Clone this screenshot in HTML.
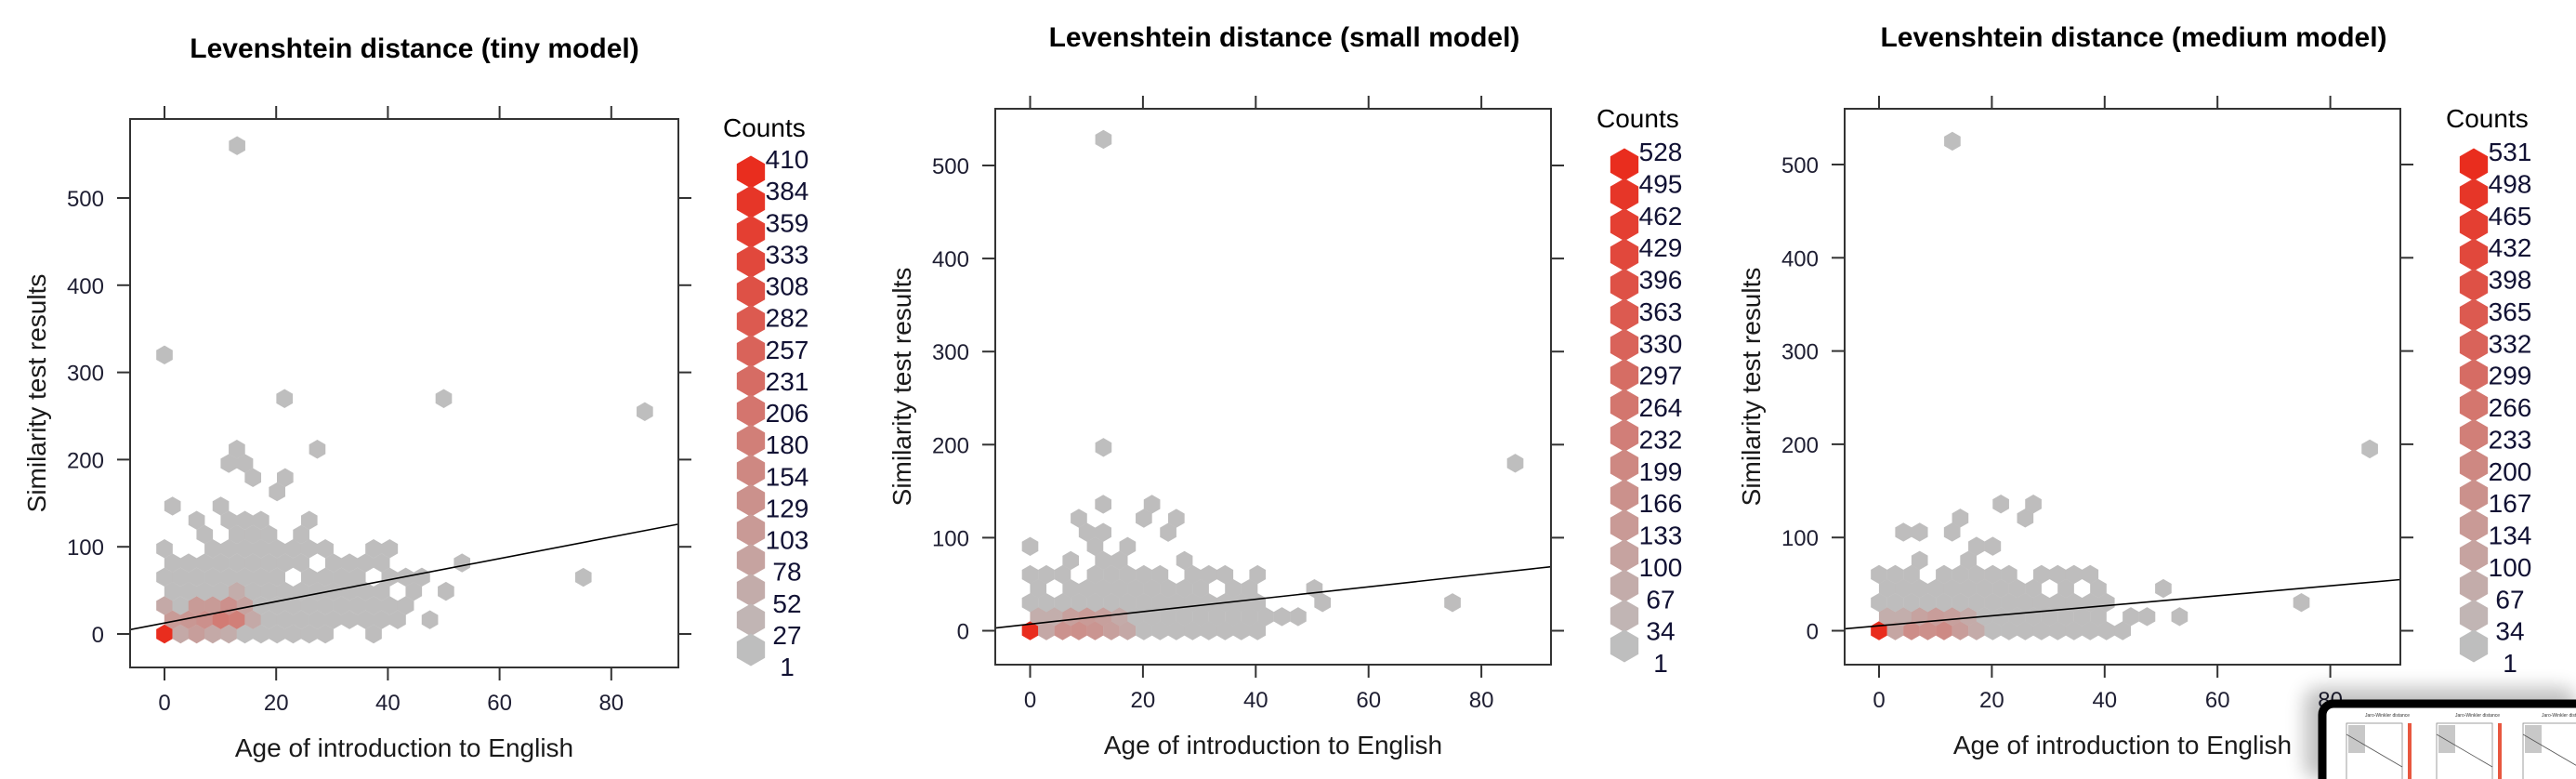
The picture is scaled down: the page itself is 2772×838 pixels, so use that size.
<!DOCTYPE html>
<html>
<head>
<meta charset="utf-8">
<style>
  html,body{margin:0;padding:0;background:#fff;width:2772px;height:838px;overflow:hidden;}
  svg{display:block;font-family:"Liberation Sans",Arial,sans-serif;overflow:hidden;}
</style>
</head>
<body>
<svg id="chart" width="2772" height="838" viewBox="0 0 2772 838" xmlns="http://www.w3.org/2000/svg">
  <defs>
    <filter id="blur" x="-20%" y="-20%" width="140%" height="140%"><feGaussianBlur stdDeviation="10"/></filter>
    <clipPath id="page-clip"><rect x="0" y="0" width="2772" height="838"/></clipPath>
  </defs>
  <rect x="0" y="0" width="2772" height="838" fill="#ffffff"/>
</svg>
<script>
// ---------- data: tiny model ----------
const p1AgeBin = 2.88;
const p1ScoreBin = 16.3;
const p1Rows = [
  [0,1,2,3,4,5,6,7,8,9,10,13],
  [0,1,2,3,4,5,6,7,8,9,10,11,12,13,14,16],
  [0,1,2,3,4,5,6,7,8,9,10,11,12,13,14,15],
  [0,1,2,3,4,5,6,7,8,9,10,11,12,13,15,17],
  [0,1,2,3,4,5,6,7,9,10,11,12,14,15,16],
  [0,1,2,3,4,5,6,7,8,10,11,12,13,18],
  [0,3,4,5,6,7,8,9,10,13,14],
  [2,4,5,6,8],
  [2,4,5,6,9],
  [0,3],
  [7],
  [5,7],
  [4,5],
  [4,9]
];
const p1HotRow = [0,0,0,0,0,1,1,1,1,1,1,2,2,2,2,2,3];
const p1HotCol = [0,1,2,3,4,0,1,2,3,4,5,0,2,3,4,5,4];
const p1HotCount = [410,60,90,60,50,100,110,130,190,180,60,60,100,100,130,80,50];
const p1OutAge = [13,0,21.5,50,86,75];
const p1OutScore = [560,320,270,270,255,65];
const p1Legend = [410,384,359,333,308,282,257,231,206,180,154,129,103,78,52,27,1];
const p1Intercept = 12.6, p1Slope = 1.232;

// ---------- data: small model ----------
const p2AgeBin = 2.88;
const p2ScoreBin = 15.1;
const p2Rows = [
  [0,1,2,3,4,5,6,7,8,9,10,11,12,13,14],
  [0,1,2,3,4,5,6,7,8,9,10,11,12,13,14,15,16],
  [0,1,2,3,4,5,6,7,8,9,10,11,12,13,14,18,26],
  [0,2,3,4,5,6,7,8,9,10,12,13,17],
  [0,1,2,4,5,6,7,8,10,11,12,14],
  [2,4,5,9],
  [0,4,6],
  [3,4,8],
  [3,7,9],
  [4,7]
];
const p2HotRow = [0,0,0,0,0,0,0,1,1,1,1,1,1];
const p2HotCol = [0,1,2,3,4,5,6,0,1,2,3,4,5];
const p2HotCount = [528,80,160,170,150,110,80,60,60,110,130,110,70];
const p2OutAge = [13,13,86];
const p2OutScore = [528,197,180];
const p2Legend = [528,495,462,429,396,363,330,297,264,232,199,166,133,100,67,34,1];
const p2Intercept = 7.1, p2Slope = 0.668;

// ---------- data: medium model ----------
const p3AgeBin = 2.88;
const p3ScoreBin = 15.1;
const p3Rows = [
  [0,1,2,3,4,5,6,7,8,9,10,11,12,13,14,15],
  [0,1,2,3,4,5,6,7,8,9,10,11,12,13,15,16,18],
  [0,1,2,3,4,5,6,7,8,9,10,11,12,13,14,26],
  [0,1,2,3,4,5,6,7,8,9,11,13,17],
  [0,1,2,4,5,6,7,8,10,11,12,13],
  [2,5],
  [6,7],
  [1,2,4],
  [5,9],
  [7,9]
];
const p3HotRow = [0,0,0,0,0,0,0,1,1,1,1,1,1];
const p3HotCol = [0,1,2,3,4,5,6,0,1,2,3,4,5];
const p3HotCount = [531,90,180,170,190,120,70,60,60,100,120,110,70];
const p3OutAge = [13,87];
const p3OutScore = [525,195];
const p3Legend = [531,498,465,432,398,365,332,299,266,233,200,167,134,100,67,34,1];
const p3Intercept = 5.3, p3Slope = 0.536;

const xTicks = [0,20,40,60,80];
const yTicks = [0,100,200,300,400,500];

// ---------- rendering ----------
const NS = "http://www.w3.org/2000/svg";
const svg = document.getElementById('chart');
function mk(tag, attrs, parent){
  const e = document.createElementNS(NS, tag);
  for (const k in attrs) e.setAttribute(k, attrs[k]);
  (parent||svg).appendChild(e);
  return e;
}
const GRAY=[190,190,190], RED=[233,45,30];
function colorFor(c, max){
  const t = Math.max(0, Math.min(1, (c-1)/(max-1)));
  const r = Math.round(GRAY[0]+(RED[0]-GRAY[0])*t);
  const g = Math.round(GRAY[1]+(RED[1]-GRAY[1])*t);
  const b = Math.round(GRAY[2]+(RED[2]-GRAY[2])*t);
  return `rgb(${r},${g},${b})`;
}
function hexPts(cx, cy, r){
  const p=[];
  for(let k=0;k<6;k++){const a=(-90+60*k)*Math.PI/180;p.push((cx+r*Math.cos(a)).toFixed(2)+','+(cy+r*Math.sin(a)).toFixed(2));}
  return p.join(' ');
}

function drawPanel(cfg){
  const g = mk('g', {});
  
  
  const L=cfg.box[0], T=cfg.box[1], R=cfg.box[2], B=cfg.box[3];
  const xs = a => cfg.x0 + a*cfg.xk;
  const ys = s => cfg.y0 - s*cfg.yk;
  const max = cfg.legend[0];

  const title = mk('text', {x:cfg.titleX, y:cfg.titleY, 'text-anchor':'middle', 'font-size':30, 'font-weight':'bold', fill:'#000'}, g);
  title.textContent = cfg.title;
  
  

  const cid = cfg.name + '-clip';
  const cp = mk('clipPath', {id:cid}, g);
  mk('rect', {x:L, y:T, width:R-L, height:B-T}, cp);
  const plot = mk('g', {'clip-path':`url(#${cid})`}, g);
  
  

  const hot = {};
  for (let i=0;i<cfg.hotRow.length;i++) hot[cfg.hotRow[i]+'_'+cfg.hotCol[i]] = cfg.hotCount[i];
  const rHex = 10.2;
  cfg.rows.forEach((cols, row) => {
    cols.forEach(c => {
      const age = (c + (row%2)*0.5) * cfg.ageBin;
      const score = row * cfg.scoreBin;
      const cnt = hot[row+'_'+c] || 3;
      const h = mk('polygon', {points: hexPts(xs(age), ys(score), rHex), fill: colorFor(cnt, max)}, plot);
      
      
    });
  });
  cfg.outAge.forEach((a,i) => {
    const h = mk('polygon', {points: hexPts(xs(a), ys(cfg.outScore[i]), rHex), fill: colorFor(1, max)}, plot);
    
    
  });
  const ax0 = (L - cfg.x0)/cfg.xk, ax1 = (R - cfg.x0)/cfg.xk;
  const ln = mk('line', {x1:L, y1:ys(cfg.b0+cfg.b1*ax0), x2:R, y2:ys(cfg.b0+cfg.b1*ax1), stroke:'#000', 'stroke-width':1.6}, plot);
  
  

  const box = mk('rect', {x:L, y:T, width:R-L, height:B-T, fill:'none', stroke:'#333', 'stroke-width':2}, g);
  
  

  const ax = mk('g', {stroke:'#333','stroke-width':2}, g);
  
  
  xTicks.forEach(v => {
    const X = xs(v);
    mk('line', {x1:X, y1:B, x2:X, y2:B+14}, ax);
    mk('line', {x1:X, y1:T, x2:X, y2:T-14}, ax);
    const t = mk('text', {x:X, y:B+46, 'text-anchor':'middle', 'font-size':24, fill:'#1e1e32', stroke:'none'}, g);
    t.textContent = v;
    
    
  });
  yTicks.forEach(v => {
    const Y = ys(v);
    mk('line', {x1:L, y1:Y, x2:L-14, y2:Y}, ax);
    mk('line', {x1:R, y1:Y, x2:R+14, y2:Y}, ax);
    const t = mk('text', {x:L-28, y:Y+9, 'text-anchor':'end', 'font-size':24, fill:'#1e1e32'}, g);
    t.textContent = v;
    
    
  });

  const xl = mk('text', {x:(L+R)/2, y:B+96, 'text-anchor':'middle', 'font-size':28, fill:'#1a1a1a'}, g);
  xl.textContent = 'Age of introduction to English';
  
  
  const yc = (T+B)/2, yx = L-101;
  const yl = mk('text', {x:yx, y:yc, 'text-anchor':'middle', 'font-size':28, fill:'#1a1a1a', transform:`rotate(-90 ${yx} ${yc}) translate(0 10)`}, g);
  yl.textContent = 'Similarity test results';
  
  

  const lg = mk('g', {}, g);
  
  
  const ct = mk('text', {x:cfg.legX-30, y:cfg.countsY+10, 'font-size':28, fill:'#000'}, lg);
  ct.textContent = 'Counts';
  
  
  const n = cfg.legend.length;
  const L0 = cfg.lab0, LN = cfg.labN;
  const H0 = L0+14, HN = LN-18;
  cfg.legend.forEach((v,i) => {
    const hy = H0 + i*(HN-H0)/(n-1);
    const h = mk('polygon', {points: hexPts(cfg.legX, hy, 17.5), fill: colorFor(v, max)}, lg);
    
    
  });
  cfg.legend.forEach((v,i) => {
    const ly = L0 + i*(LN-L0)/(n-1);
    const t = mk('text', {x:cfg.legX+39, y:ly+10, 'text-anchor':'middle', 'font-size':28, fill:'#111133'}, lg);
    t.textContent = v;
    
    
  });
}

drawPanel({name:'panel-tiny', title:'Levenshtein distance (tiny model)', titleX:446, titleY:62,
  box:[140,128,730,718], x0:177, xk:6.01, y0:682, yk:0.938,
  ageBin:p1AgeBin, scoreBin:p1ScoreBin, rows:p1Rows, hotRow:p1HotRow, hotCol:p1HotCol, hotCount:p1HotCount,
  outAge:p1OutAge, outScore:p1OutScore, legend:p1Legend, b0:p1Intercept, b1:p1Slope,
  legX:808, countsY:137, lab0:171, labN:717});
drawPanel({name:'panel-small', title:'Levenshtein distance (small model)', titleX:1382, titleY:50,
  box:[1071,117,1669,715], x0:1108.5, xk:6.07, y0:678.5, yk:1.001,
  ageBin:p2AgeBin, scoreBin:p2ScoreBin, rows:p2Rows, hotRow:p2HotRow, hotCol:p2HotCol, hotCount:p2HotCount,
  outAge:p2OutAge, outScore:p2OutScore, legend:p2Legend, b0:p2Intercept, b1:p2Slope,
  legX:1748, countsY:127, lab0:163, labN:713});
drawPanel({name:'panel-medium', title:'Levenshtein distance (medium model)', titleX:2296, titleY:50,
  box:[1985,117,2583,715], x0:2022, xk:6.07, y0:678.5, yk:1.003,
  ageBin:p3AgeBin, scoreBin:p3ScoreBin, rows:p3Rows, hotRow:p3HotRow, hotCol:p3HotCol, hotCount:p3HotCount,
  outAge:p3OutAge, outScore:p3OutScore, legend:p3Legend, b0:p3Intercept, b1:p3Slope,
  legX:2662, countsY:127, lab0:163, labN:713});

// thumbnail overlay (bottom-right), clipped to the page
const th = mk('g', {'clip-path':'url(#page-clip)'});


mk('rect', {x:2480, y:740, width:292, height:98, rx:14, fill:'#000', opacity:0.25, filter:'url(#blur)'}, th);
mk('rect', {x:2499, y:757, width:290, height:100, rx:12, fill:'#fff', stroke:'#000', 'stroke-width':9}, th);
const thumbX = [2515, 2612, 2705];
thumbX.forEach((x0) => {
  const tx = mk('text', {x:x0+30, y:771, 'font-size':5, fill:'#333'}, th);
  tx.textContent = 'Jaro-Winkler distance';
  mk('rect', {x:x0+10, y:778, width:60, height:70, fill:'none', stroke:'#888', 'stroke-width':0.8}, th);
  mk('rect', {x:x0+12, y:780, width:18, height:30, fill:'#c8c8c8'}, th);
  mk('line', {x1:x0+10, y1:790, x2:x0+70, y2:825, stroke:'#555', 'stroke-width':0.8}, th);
  mk('rect', {x:x0+76, y:778, width:4, height:70, fill:'#e8573f'}, th);
});
</script>
</body>
</html>
